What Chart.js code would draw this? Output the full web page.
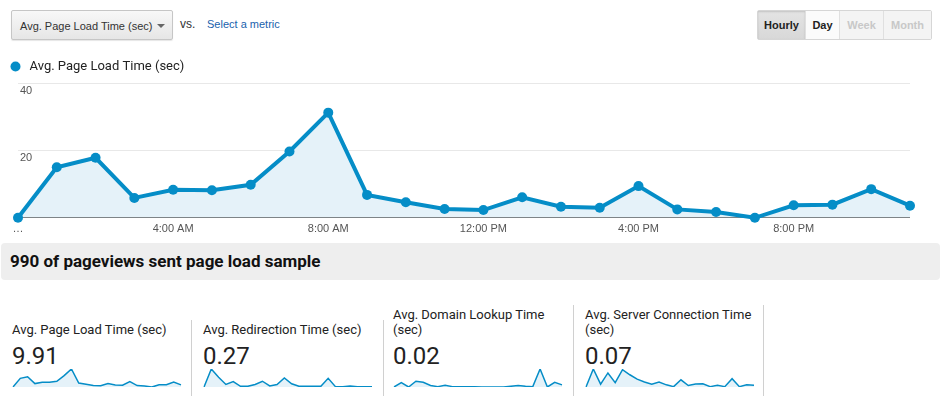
<!DOCTYPE html>
<html>
<head>
<meta charset="utf-8">
<script src="https://cdn.jsdelivr.net/npm/chart.js@4.4.1/dist/chart.umd.min.js"></script>
<style>
    body { margin: 0; background: #fff; width: 945px; height: 396px; overflow: hidden; position: relative; font-family: Roboto, Arial, sans-serif; }
    .abs { position: absolute; }
    #metricSelect { left: 11px; top: 10px; width: 162px; height: 30px; border: 1px solid #c6c6c6; border-radius: 2px;
        background: linear-gradient(#f8f8f8, #e6e6e6); box-shadow: 0 1px 1px rgba(0,0,0,0.1);
        font: 11px "Liberation Sans", Arial, sans-serif; color: #333; line-height: 30px; padding-left: 8px; box-sizing: border-box; }
    #metricSelect .caret { position: absolute; right: 7px; top: 13px; width: 0; height: 0; border-left: 4px solid transparent; border-right: 4px solid transparent; border-top: 4px solid #666; }
    #vs { left: 180px; top: 17px; font: 12px "Liberation Sans", Arial, sans-serif; color: #333; }
    #selectMetric { left: 207px; top: 18px; font: 11px "Liberation Sans", Arial, sans-serif; color: #1a62ad; }
    #buttons { left: 757px; top: 10px; height: 30px; display: flex; border: 1px solid #d6d6d6; border-radius: 2px; box-sizing: border-box; }
    #buttons div { font: bold 11px "Liberation Sans", Arial, sans-serif; line-height: 28px; text-align: center; border-left: 1px solid #e0e0e0; box-sizing: border-box; }
    #buttons .on { background: linear-gradient(#e4e4e4, #d8d8d8); color: #222; box-shadow: inset 0 1px 2px rgba(0,0,0,0.15); border-left: none; }
    #buttons .day { background: #fbfbfb; color: #222; }
    #buttons .off { background: #f4f4f4; color: #c8c8c8; }
    #mainWrap { left: 0; top: 52px; width: 925px; height: 189px; }
    #sampleBar { left: 1px; top: 243px; width: 939px; height: 37px; background: #eeeeee; border-radius: 4px;
        font: bold 17px Roboto, sans-serif; color: #111; line-height: 37px; padding-left: 9px; box-sizing: border-box; }
    .tile { position: absolute; border-right: 1px solid #d0d0d0; }
    .tile .ttl { position: absolute; left: 0; bottom: 59px; font: 13px Roboto, sans-serif; color: #222; line-height: 14.5px; width: 170px; }
    .tile .val { position: absolute; left: 0; font: 24px Roboto, sans-serif; color: #222; line-height: 28px; }
    .spark { position: absolute; height: 20px; }
</style>
</head>
<body>
<div id="metricSelect" class="abs">Avg. Page Load Time (sec)<span class="caret"></span></div>
<div id="vs" class="abs">vs.</div>
<div id="selectMetric" class="abs">Select a metric</div>
<div id="buttons" class="abs">
    <div class="on" style="width:47px">Hourly</div>
    <div class="day" style="width:34px">Day</div>
    <div class="off" style="width:44px">Week</div>
    <div class="off" style="width:48px">Month</div>
</div>

<div id="mainWrap" class="abs"><canvas id="mainChart"></canvas></div>

<div id="sampleBar" class="abs">990 of pageviews sent page load sample</div>

<div id="tiles"></div>

<script>
var hours = ['12:00 AM', '1:00 AM', '2:00 AM', '3:00 AM', '4:00 AM', '5:00 AM', '6:00 AM', '7:00 AM',
    '8:00 AM', '9:00 AM', '10:00 AM', '11:00 AM', '12:00 PM', '1:00 PM', '2:00 PM', '3:00 PM',
    '4:00 PM', '5:00 PM', '6:00 PM', '7:00 PM', '8:00 PM', '9:00 PM', '10:00 PM', '11:00 PM'];
var yTicks = [0, 20, 40];

var pageLoadTime = [0, 15.0, 17.8, 5.9, 8.3, 8.2, 9.8, 19.7, 31.2, 6.8, 4.6, 2.6,
    2.3, 6.1, 3.3, 3.0, 9.4, 2.5, 1.7, 0, 3.7, 3.9, 8.5, 3.6];
var redirectionTime = [0, 50, 27, 7, 15, 2, 2, 7, 16, 3, 7, 25,
    9, 2, 2, 2, 2, 24, 1, 1, 3, 1, 1, 1];
var domainLookupTime = [0, 12, 0, 16, 13, 4, 1, 5, 1, 1, 1, 1,
    0, 0, 0, 0, 2, 4, 2, 1, 50, 0, 13, 6];
var serverConnectionTime = [0, 50, 8, 39, 12, 48, 34, 22, 14, 8, 14, 6,
    1, 20, 4, 8, 9, 1, 5, 1, 23, 1, 6, 5];

var metricNames = ['Avg. Page Load Time (sec)', 'Avg. Redirection Time (sec)', 'Avg. Domain Lookup Time (sec)', 'Avg. Server Connection Time (sec)'];
var metricTotals = ['9.91', '0.27', '0.02', '0.07'];
var metricSeries = [pageLoadTime, redirectionTime, domainLookupTime, serverConnectionTime];

var blue = '#058dc7';

// legend dot
var dot = document.createElement('canvas');
dot.width = 11; dot.height = 11;
var dctx = dot.getContext('2d');
dctx.fillStyle = blue;
dctx.beginPath();
dctx.arc(5.5, 5.5, 5, 0, Math.PI * 2);
dctx.fill();

var mainChart = new Chart(document.getElementById('mainChart'), {
    type: 'line',
    data: {
        labels: hours,
        datasets: [{
            label: 'Avg. Page Load Time (sec)',
            data: pageLoadTime,
            borderColor: blue,
            backgroundColor: '#e5f2f9',
            borderWidth: 4,
            fill: 'origin',
            tension: 0,
            pointRadius: 5,
            pointHoverRadius: 5,
            pointBackgroundColor: blue,
            pointBorderColor: blue,
            pointBorderWidth: 0,
            clip: false
        }]
    },
    options: {
        responsive: true,
        maintainAspectRatio: false,
        animation: false,
        layout: { padding: { left: 0, right: 15, top: 0, bottom: 0 } },
        plugins: {
            legend: {
                display: true,
                align: 'start',
                labels: {
                    usePointStyle: true,
                    pointStyle: dot,
                    pointStyleWidth: 15,
                    boxHeight: 11,
                    color: '#222',
                    font: { family: 'Roboto', size: 13 },
                    padding: 8
                }
            },
            tooltip: { enabled: false }
        },
        scales: {
            x: {
                grid: { display: false, drawTicks: false },
                border: { display: false },
                ticks: {
                    autoSkip: false,
                    maxRotation: 0,
                    padding: 5,
                    color: '#555',
                    font: { family: 'Liberation Sans', size: 11 },
                    callback: function (val, idx) {
                        if (idx === 0) {
                            return '…';
                        }
                        return idx % 4 === 0 ? this.getLabelForValue(val) : '';
                    }
                }
            },
            y: {
                min: 0,
                max: 40,
                afterFit: function (axis) { axis.width = 18; },
                afterBuildTicks: function (axis) {
                    axis.ticks = yTicks.map(function (v) { return { value: v }; });
                },
                grid: {
                    drawTicks: false,
                    color: function (c) { return c.tick && c.tick.value === 0 ? '#333' : '#e8e8e8'; }
                },
                border: { display: false },
                ticks: {
                    mirror: true,
                    padding: 2,
                    labelOffset: 8,
                    color: '#555',
                    font: { family: 'Liberation Sans', size: 11 },
                    callback: function (val) { return val === 0 ? '' : val; }
                }
            }
        }
    }
});

// metric tiles with sparklines
var tileLefts = [12, 203, 393, 585];
var tileWidths = [179, 180, 180, 178];
var tilesEl = document.getElementById('tiles');

for (var i = 0; i < metricNames.length; i++) {
    var tileTop = i < 2 ? 320 : 305;
    var tile = document.createElement('div');
    tile.className = 'tile';
    tile.style.left = tileLefts[i] + 'px';
    tile.style.width = tileWidths[i] + 'px';
    tile.style.top = tileTop + 'px';
    tile.style.height = (396 - tileTop) + 'px';
    tile.innerHTML = '<div class="ttl">' + metricNames[i] + '</div>' +
        '<div class="val" style="top:' + (342 - tileTop) + 'px">' + metricTotals[i] + '</div>';
    tilesEl.appendChild(tile);

    var wrap = document.createElement('div');
    wrap.className = 'spark';
    wrap.style.left = tileLefts[i] + 'px';
    wrap.style.top = '368px';
    wrap.style.width = '170px';
    var cv = document.createElement('canvas');
    wrap.appendChild(cv);
    document.body.appendChild(wrap);

    var series = metricSeries[i];
    new Chart(cv, {
        type: 'line',
        data: {
            labels: hours,
            datasets: [{
                data: series,
                borderColor: blue,
                backgroundColor: '#e5f2f9',
                borderWidth: 1.5,
                fill: 'origin',
                tension: 0,
                pointRadius: 0
            }]
        },
        options: {
            responsive: true,
            maintainAspectRatio: false,
            animation: false,
            layout: { padding: 1 },
            plugins: { legend: { display: false }, tooltip: { enabled: false } },
            scales: {
                x: { display: false },
                y: { display: false, min: 0, max: Math.max.apply(null, series) }
            }
        }
    });
}
</script>
</body>
</html>
